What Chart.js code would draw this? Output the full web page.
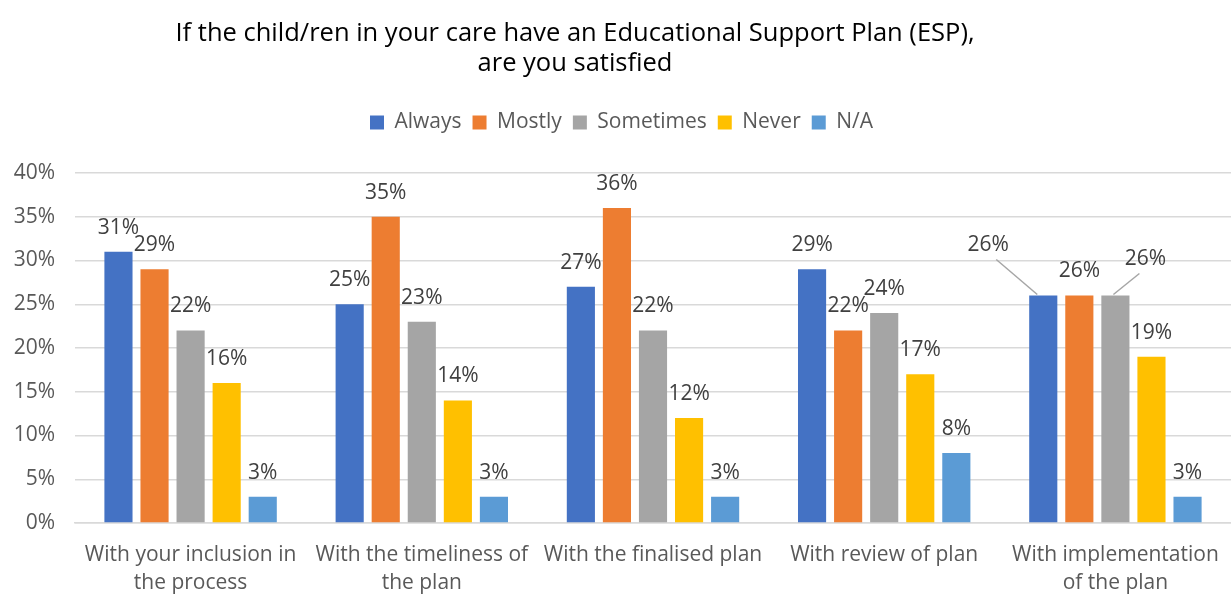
<!DOCTYPE html>
<html>
<head>
<meta charset="utf-8">
<script src="https://cdn.jsdelivr.net/npm/chart.js@4.4.1/dist/chart.umd.min.js"></script>
<style>
  html, body { margin: 0; padding: 0; background: #fff; }
  #wrap { position: relative; width: 1231px; height: 594px; }
  #title {
    position: absolute; left: 0; top: 16px; width: 1150px; text-align: center;
    font-family: "Open Sans", sans-serif; font-size: 25.5px; line-height: 30px; color: #000;
  }
</style>
</head>
<body>
<div id="wrap">
  <div id="title">If the child/ren in your care have an Educational Support Plan (ESP),<br>are you satisfied</div>
  <canvas id="chart" width="1231" height="594"></canvas>
</div>
<script>
const categories = [
    ['With your inclusion in', 'the process'],
    ['With the timeliness of', 'the plan'],
    'With the finalised plan',
    'With review of plan',
    ['With implementation', 'of the plan']
];
const always = [31, 25, 27, 29, 26];
const mostly = [29, 35, 36, 22, 26];
const sometimes = [22, 23, 22, 24, 26];
const never = [16, 14, 12, 17, 19];
const notApplicable = [3, 3, 3, 8, 3];
const yTicks = [0, 5, 10, 15, 20, 25, 30, 35, 40];

const FONT = '"Open Sans", sans-serif';
const TEXT = '#595959';

// labels that Excel pulled away from the bar, with a leader line (dataset, index, dx, dy)
const movedLabels = [
    { ds: 0, i: 4, dx: -55, dy: -26 },
    { ds: 2, i: 4, dx: 30, dy: -12 }
];

const valueLabels = {
    id: 'valueLabels',
    afterDatasetsDraw(chart) {
        const ctx = chart.ctx;
        ctx.save();
        ctx.font = '21px ' + FONT;
        ctx.fillStyle = '#404040';
        ctx.textAlign = 'center';
        ctx.textBaseline = 'middle';
        chart.data.datasets.forEach((ds, di) => {
            chart.getDatasetMeta(di).data.forEach((bar, i) => {
                let x = bar.x, y = bar.y - 24;
                const m = movedLabels.find(o => o.ds === di && o.i === i);
                if (m) {
                    x += m.dx; y += m.dy;
                    ctx.strokeStyle = '#A6A6A6';
                    ctx.lineWidth = 1.5;
                    ctx.beginPath();
                    if (m.dx < 0) { ctx.moveTo(x + 8, y + 14); ctx.lineTo(bar.x - 6, bar.y - 1); }
                    else { ctx.moveTo(x - 6, y + 14); ctx.lineTo(bar.x - 2, bar.y - 1); }
                    ctx.stroke();
                }
                ctx.fillText(ds.data[i] + '%', x, y);
            });
        });
        ctx.restore();
    }
};

// extra room between the legend and the plot
const legendGap = {
    id: 'legendGap',
    beforeInit(chart) {
        const fit = chart.legend.fit;
        chart.legend.fit = function () {
            fit.bind(this)();
            this.height += 30;
        };
    }
};

const colors = ['#4472C4', '#ED7D31', '#A5A5A5', '#FFC000', '#5B9BD5'];
const names = ['Always', 'Mostly', 'Sometimes', 'Never', 'N/A'];
const series = [always, mostly, sometimes, never, notApplicable];

new Chart(document.getElementById('chart'), {
    type: 'bar',
    data: {
        labels: categories,
        datasets: series.map((d, k) => ({
            label: names[k],
            data: d,
            backgroundColor: colors[k],
            categoryPercentage: 0.78,
            barPercentage: 0.78
        }))
    },
    options: {
        responsive: false,
        animation: false,
        layout: { padding: { top: 101, right: 0, left: 12, bottom: 0 } },
        plugins: {
            title: { display: false },
            tooltip: { enabled: false },
            legend: {
                position: 'top',
                labels: {
                    font: { family: FONT, size: 21 },
                    color: TEXT,
                    boxWidth: 14,
                    boxHeight: 14,
                    padding: 11
                }
            }
        },
        scales: {
            x: {
                grid: { display: false },
                border: { color: '#D9D9D9', width: 1.5 },
                ticks: { font: { family: FONT, size: 21, lineHeight: 1.33 }, color: TEXT, maxRotation: 0, padding: 10 },
                afterFit: axis => { axis.paddingLeft = 0; axis.paddingRight = 0; axis.height = 71; }
            },
            y: {
                min: 0,
                max: 40,
                afterBuildTicks: axis => { axis.ticks = yTicks.map(v => ({ value: v })); },
                afterFit: axis => { axis.width = 63; },
                grid: { color: '#D9D9D9', lineWidth: 1.5, drawTicks: false },
                border: { display: false },
                ticks: { font: { family: FONT, size: 21 }, color: TEXT, padding: 20, callback: v => v + '%' }
            }
        }
    },
    plugins: [valueLabels, legendGap]
});
</script>
</body>
</html>
